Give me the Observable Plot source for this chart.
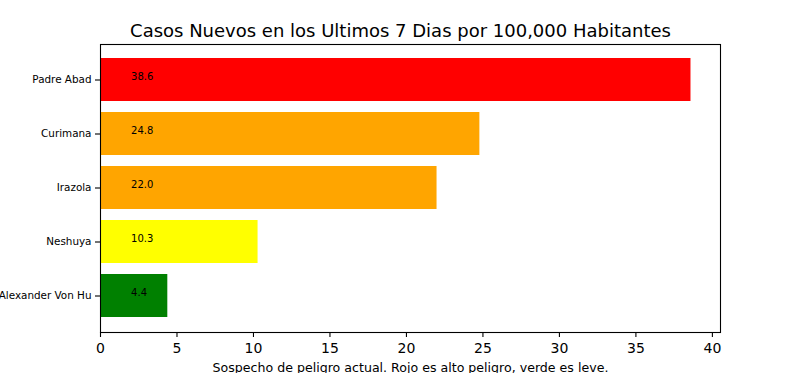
<!DOCTYPE html>
<html>
<head>
<meta charset="utf-8">
<script src="https://cdn.jsdelivr.net/npm/d3@7"></script>
<script src="https://cdn.jsdelivr.net/npm/@observablehq/plot@0.6"></script>
<style>
  html, body { margin: 0; padding: 0; background: #fff; }
  #chart { width: 800px; height: 373px; overflow: hidden; }
</style>
</head>
<body>
<div id="chart"></div>
<script>
const names = ["Padre Abad", "Curimana", "Irazola", "Neshuya", "Alexander Von Hu"];
const values = [38.6, 24.8, 22.0, 10.3, 4.4];
const colors = ["#ff0000", "#ffa500", "#ffa500", "#ffff00", "#008000"];
const valueLabels = ["38.6", "24.8", "22.0", "10.3", "4.4"];
const xTicks = [0, 5, 10, 15, 20, 25, 30, 35, 40];
const labelPos = 2;
const title = "Casos Nuevos en los Ultimos 7 Dias por 100,000 Habitantes";
const xLabel = "Sospecho de peligro actual. Rojo es alto peligro, verde es leve.";

const data = names.map((n, i) => ({name: n, value: values[i], color: colors[i], label: valueLabels[i]}));

const chart = Plot.plot({
  width: 800,
  height: 373,
  marginLeft: 100,
  marginRight: 80,
  marginTop: 44,
  marginBottom: 41,
  style: {fontFamily: "DejaVu Sans", color: "black", background: "white", overflow: "visible"},
  x: {domain: [0, d3.max(values) * 1.05]},
  y: {domain: names, paddingInner: 0.2, paddingOuter: 0.24},
  color: {type: "identity"},
  marks: [
    Plot.barX(data, {x: "value", y: "name", fill: "color"}),
    Plot.text(data, {x: () => labelPos, y: "name", text: "label", textAnchor: "start", fontSize: 10, dy: -3.5, fill: "black"}),
    Plot.frame({stroke: "black", strokeWidth: 1.1}),
    Plot.axisX({ticks: xTicks, tickSize: 5, tickPadding: 6, fontSize: 14, label: null, strokeWidth: 1.1}),
    Plot.axisY({tickSize: 5, tickPadding: 4, fontSize: 10.4, label: null, strokeWidth: 1.1}),
    Plot.text([title], {frameAnchor: "top", lineAnchor: "middle", dx: -10, dy: -13, fontSize: 18, fill: "black"}),
    Plot.text([xLabel], {frameAnchor: "bottom", lineAnchor: "middle", dy: 35, fontSize: 12.6, fill: "black"})
  ]
});
document.getElementById("chart").appendChild(chart);
</script>
</body>
</html>
